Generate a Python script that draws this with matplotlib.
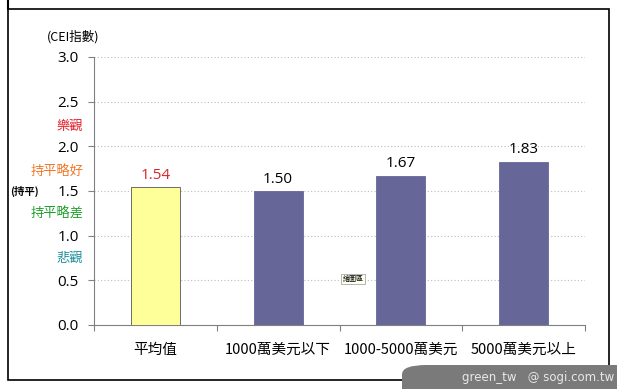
import matplotlib
matplotlib.use("Agg")
import matplotlib.pyplot as plt
from matplotlib.patches import FancyBboxPatch, Rectangle

plt.rcParams['font.family'] = ['Noto Sans CJK TC', 'DejaVu Sans']

categories = ["平均值", "1000萬美元以下", "1000-5000萬美元", "5000萬美元以上"]
values = [1.54, 1.50, 1.67, 1.83]
bar_colors = ["#FFFF99", "#666699", "#666699", "#666699"]
label_colors = ["#D9262B", "#000000", "#000000", "#000000"]
yticks = [0.0, 0.5, 1.0, 1.5, 2.0, 2.5, 3.0]
side_labels = ["樂觀", "持平略好", "持平略差", "悲觀"]
side_pos = [2.22, 1.72, 1.24, 0.74]
side_colors = ["#E0202A", "#F07828", "#1E9E2A", "#1E8C9A"]

W, H = 617, 389
fig = plt.figure(figsize=(W / 100, H / 100), dpi=100)
fig.patch.set_facecolor("white")

# outer frame
fig.add_artist(Rectangle((8 / W, 1 - 380 / H), (609 - 8) / W, (380 - 9) / H,
                         transform=fig.transFigure, fill=False, edgecolor="black", lw=1.2))
fig.add_artist(plt.Line2D([8 / W, 8 / W], [1 - 0 / H, 1 - 9 / H], transform=fig.transFigure,
                          color="black", lw=1.5))

ax = fig.add_axes([94 / W, 1 - 325 / H, (585 - 94) / W, (325 - 57) / H])
x = list(range(len(categories)))
ax.bar(x, values, width=0.4, color=bar_colors, edgecolor=["#555555", "#666699", "#666699", "#666699"],
       linewidth=0.6, zorder=3)
for xi, v, c in zip(x, values, label_colors):
    ax.text(xi, v + 0.05, f"{v:.2f}", ha="center", va="bottom", fontsize=11, color=c,
            family=['Open Sans', 'DejaVu Sans'])

ax.set_xlim(-0.5, len(categories) - 0.5)
ax.set_ylim(0, 3.0)
ax.set_yticks(yticks)
ax.set_yticklabels([f"{t:.1f}" for t in yticks], fontsize=11, family=['Open Sans', 'DejaVu Sans'])
ax.yaxis.grid(True, linestyle=(0, (1, 2)), color="#BBBBBB", lw=0.8, zorder=0)
ax.set_xticks([i + 0.5 for i in range(-1, len(categories))])
ax.set_xticklabels([])
ax.tick_params(axis='x', length=4, color="#808080", direction="out")
ax.tick_params(axis='y', length=4, color="#808080", direction="out", pad=7)
for xi, c in zip(x, categories):
    ax.text(xi, -0.2, c, ha="center", va="top", fontsize=10.5, transform=ax.transData)
for s in ["top", "right"]:
    ax.spines[s].set_visible(False)
for s in ["left", "bottom"]:
    ax.spines[s].set_color("#808080")

# side labels
for t, p, c in zip(side_labels, side_pos, side_colors):
    ax.text(-0.022, p, t, transform=ax.get_yaxis_transform(), ha="right", va="center",
            fontsize=9.5, color=c)
fig.text(39 / W, 1 - 191 / H, "(持平)", ha="right", va="center", fontsize=7.5, fontweight="bold")
fig.text(73 / W, 1 - 37 / H, "(CEI指數)", ha="center", va="center", fontsize=9)

# small plot-area tag
fig.text(353 / W, 1 - 279 / H, "繪圖區", ha="center", va="center", fontsize=5,
         bbox=dict(boxstyle="square,pad=0.2", fc="#FFFFF0", ec="#999999", lw=0.5))

# watermark band
band = FancyBboxPatch((402 / W, -10 / H), (640 - 402) / W, (10 + 24) / H,
                      boxstyle="round,pad=0,rounding_size=0.04", transform=fig.transFigure,
                      fc="#7A7A7A", ec="none", mutation_aspect=0.6)
fig.add_artist(band)
fig.text(538 / W, 1 - 377 / H, "green_tw   @ sogi.com.tw", ha="center", va="center",
         fontsize=8.5, color="#E8E8E8", family=['DejaVu Sans'])

fig.savefig("out.png", dpi=100)
